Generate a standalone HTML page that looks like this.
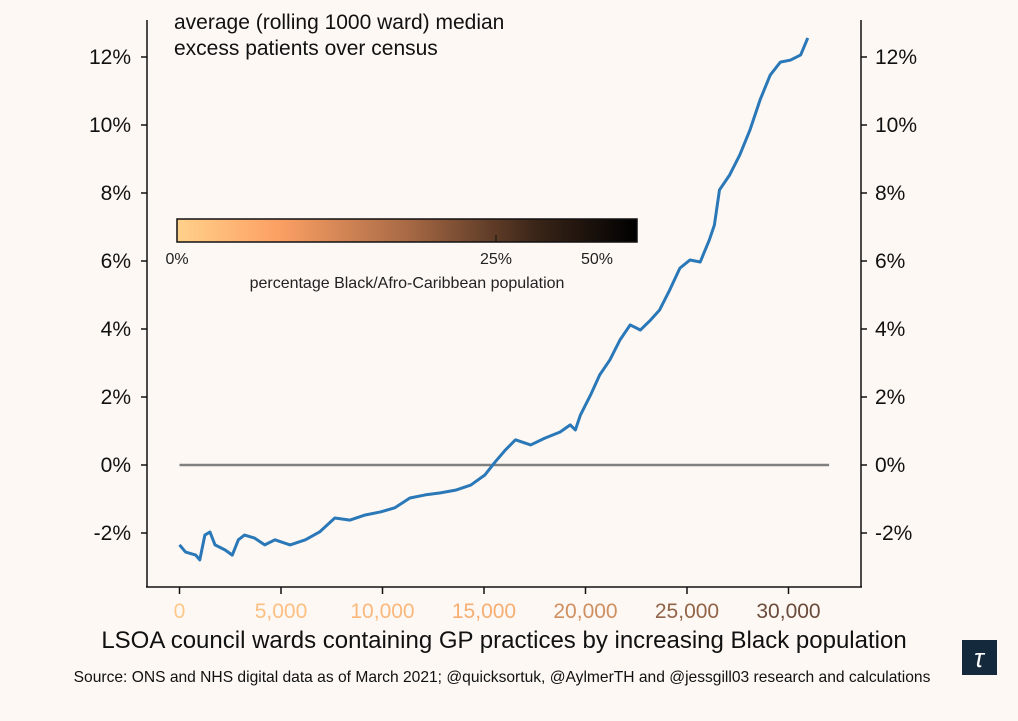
<!DOCTYPE html>
<html><head><meta charset="utf-8"><style>
body{margin:0;background:#fdf8f4;}
svg text{font-family:"Liberation Sans",sans-serif;}
</style></head><body>
<svg id="c" width="1018" height="716" viewBox="0 0 1018 716" xmlns="http://www.w3.org/2000/svg">
<defs><linearGradient id="cg" x1="0" x2="1"><stop offset="0" stop-color="#ffd18a"/><stop offset="0.22" stop-color="#fca064"/><stop offset="0.5" stop-color="#a86a45"/><stop offset="0.78" stop-color="#3a2518"/><stop offset="1" stop-color="#000"/></linearGradient></defs>
<rect width="1018" height="716" fill="#fdf8f4"/>
<g id="axes"></g>
<text x="174" y="29" font-size="21" fill="#111">average (rolling 1000 ward) median</text>
<text x="174" y="55" font-size="21" fill="#111">excess patients over census</text>
<g>
<rect x="177" y="219" width="460" height="23" fill="url(#cg)" stroke="#111" stroke-width="1.5"/>
<line x1="496" y1="235" x2="496" y2="242" stroke="#111"/>
<line x1="597" y1="235" x2="597" y2="242" stroke="#111"/>
<text x="177" y="264" font-size="16" text-anchor="middle" fill="#222">0%</text>
<text x="496" y="264" font-size="16" text-anchor="middle" fill="#222">25%</text>
<text x="597" y="264" font-size="16" text-anchor="middle" fill="#222">50%</text>
<text x="407" y="288" font-size="16" text-anchor="middle" fill="#222">percentage Black/Afro-Caribbean population</text>
</g>
<text x="504" y="648" font-size="24" text-anchor="middle" fill="#111">LSOA council wards containing GP practices by increasing Black population</text>
<text x="502" y="682" font-size="15.6" text-anchor="middle" fill="#111">Source: ONS and NHS digital data as of March 2021; @quicksortuk, @AylmerTH and @jessgill03 research and calculations</text>
<g><rect x="962" y="640" width="35" height="35" fill="#15293d"/><text x="979" y="667" font-size="26" text-anchor="middle" fill="#fff" font-family="Liberation Serif,serif" font-style="italic">τ</text></g>
</svg>
<script>
const xVals=[0,300,800,1000,1250,1500,1750,2250,2600,2900,3200,3700,4200,4700,5450,6200,6900,7650,8400,9150,9900,10600,11350,12100,12850,13600,14350,15050,15550,16050,16550,17300,18000,18750,19250,19500,19750,20250,20700,21200,21700,22200,22700,23200,23650,24150,24650,25150,25650,26100,26350,26600,27100,27600,28100,28600,29100,29600,30100,30600,30950];
const yVals=[-2.35,-2.56,-2.65,-2.79,-2.06,-1.97,-2.35,-2.5,-2.65,-2.2,-2.06,-2.15,-2.35,-2.2,-2.35,-2.2,-1.97,-1.56,-1.62,-1.47,-1.38,-1.26,-0.97,-0.88,-0.82,-0.74,-0.59,-0.29,0.09,0.44,0.74,0.59,0.79,0.97,1.18,1.03,1.47,2.06,2.65,3.09,3.68,4.12,3.97,4.26,4.56,5.15,5.79,6.03,5.97,6.62,7.06,8.09,8.53,9.12,9.85,10.74,11.47,11.85,11.91,12.06,12.56];
const xTicks=[0,5000,10000,15000,20000,25000,30000];
const xTickLabels=["0","5,000","10,000","15,000","20,000","25,000","30,000"];
const xTickColors=["#ffc88a","#fdbf82","#fbb87c","#f7ae72","#cf8f60","#926448","#6b4b3b"];
const yTicks=[-2,0,2,4,6,8,10,12];
const yTickLabels=["-2%","0%","2%","4%","6%","8%","10%","12%"];
const NS="http://www.w3.org/2000/svg";
const X=v=>179.5+v*101.5/5000;
const Y=v=>465-v*34;
const g=document.getElementById('axes');
function mk(t,a){const e=document.createElementNS(NS,t);for(const k in a)e.setAttribute(k,a[k]);g.appendChild(e);return e;}
let e;
e=mk('line',{x1:147,y1:20,x2:147,y2:587,stroke:'#111','stroke-width':1.5});


e=mk('line',{x1:861,y1:20,x2:861,y2:587,stroke:'#111','stroke-width':1.5});


e=mk('line',{x1:146,y1:587,x2:862,y2:587,stroke:'#111','stroke-width':1.5});


xTicks.forEach((v,i)=>{
 const t=mk('line',{x1:X(v),y1:587,x2:X(v),y2:594,stroke:'#111','stroke-width':1.5});
 
 
 const l=mk('text',{x:X(v),y:618,'font-size':21,'text-anchor':'middle',fill:xTickColors[i]});
 l.textContent=xTickLabels[i];
 
 
});
yTicks.forEach((v,i)=>{
 const a=mk('line',{x1:141,y1:Y(v),x2:147,y2:Y(v),stroke:'#111','stroke-width':1.5});
 
 
 const b=mk('line',{x1:861,y1:Y(v),x2:867,y2:Y(v),stroke:'#111','stroke-width':1.5});
 
 
 const l=mk('text',{x:131,y:Y(v)+7,'font-size':21,'text-anchor':'end',fill:'#111'});
 l.textContent=yTickLabels[i];
 
 
 const r=mk('text',{x:875,y:Y(v)+7,'font-size':21,fill:'#111'});
 r.textContent=yTickLabels[i];
 
 
});
e=mk('line',{x1:X(0),y1:Y(0),x2:X(32000),y2:Y(0),stroke:'#808080','stroke-width':2.5});


e=mk('polyline',{points:xVals.map((v,i)=>X(v)+','+Y(yVals[i])).join(' '),fill:'none',stroke:'#2a78b8','stroke-width':3,'stroke-linejoin':'round'});


</script>
</body></html>
